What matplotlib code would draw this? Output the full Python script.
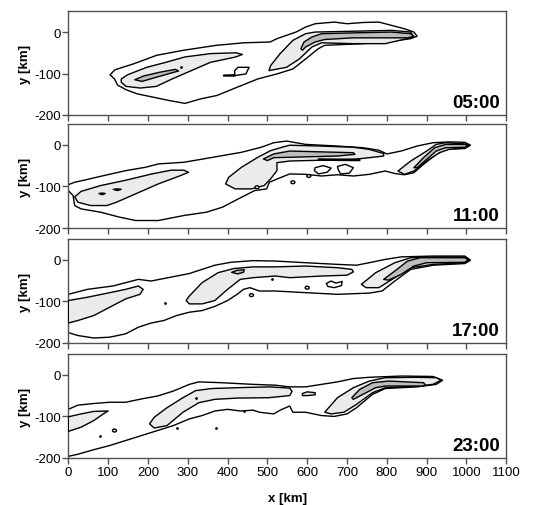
import matplotlib
matplotlib.use("Agg")
import matplotlib.pyplot as plt
from matplotlib.patches import Ellipse

plt.rcParams["font.family"] = ["Liberation Sans", "DejaVu Sans"]
plt.rcParams["axes.unicode_minus"] = False

# ---------------- data (km) ----------------
TIMES = ["05:00", "11:00", "17:00", "23:00"]
X_TICKS = [0, 100, 200, 300, 400, 500, 600, 700, 800, 900, 1000, 1100]
Y_TICKS = [0, -100, -200]

# Panel 05:00
P1_OUTER = [(105,-103),(117,-91),(163,-77),(222,-56),(289,-44),(372,-32),(440,-26),(507,-24),
            (524,-16),(572,0),(596,12),(620,20),(668,24),(700,20),(740,23),(780,24),(812,16),
            (844,8),(868,0),(876,-10),(860,-16),(796,-24),(740,-28),(644,-32),(628,-40),(596,-65),
            (564,-89),(524,-101),(476,-113),(414,-137),(373,-153),(333,-161),(293,-172),(253,-165),
            (213,-157),(173,-149),(145,-139),(124,-128),(116,-113)]
P1_LIGHT = [
    [(133,-113),(149,-103),(197,-85),(245,-73),(293,-60),(357,-52),(421,-50),(437,-54),(421,-60),
     (357,-73),(309,-93),(261,-113),(221,-131),(181,-135),(145,-131),(133,-121)],
    [(504,-93),(508,-81),(532,-52),(564,-20),(596,-4),(620,0),(716,2),(812,4),(860,0),(868,-12),
     (796,-28),(716,-28),(636,-26),(612,-36),(580,-65),(548,-85)],
]
P1_DARK = [
    [(167,-115),(189,-106),(229,-97),(269,-90),(277,-94),(261,-98),(221,-109),(185,-119)],
    [(584,-40),(592,-24),(612,-12),(636,-4),(716,-2),(812,0),(860,-4),(868,-10),(852,-14),
     (796,-14),(716,-14),(644,-18),(620,-24),(596,-36),(588,-44)],
]
P1_HOLES = [
    [(426,-85),(454,-85),(446,-101),(418,-105),(418,-93)],
    [(390,-104),(418,-103),(418,-106),(390,-106)],
]
P1_DOTS_X = [283]
P1_DOTS_Y = [-84]

# Panel 11:00
P2_OUTER = [(0,-96),(16,-90),(40,-85),(89,-74),(145,-62),(194,-54),(226,-46),(290,-42),(339,-34),
            (387,-26),(435,-18),(484,-6),(516,5),(548,9),(596,1),(676,-3),(740,-7),(780,-13),
            (800,-22),(836,-15),(876,-3),(916,5),(956,7),(996,6),(1010,-1),(996,-9),(948,-11),
            (924,-23),(892,-47),(868,-67),(844,-72),(820,-69),(796,-63),(756,-71),(716,-75),
            (676,-72),(636,-75),(596,-71),(556,-70),(530,-80),(505,-90),(498,-106),(468,-110),
            (427,-130),(387,-150),(347,-162),(290,-170),(226,-182),(169,-182),(129,-174),
            (81,-162),(32,-154),(16,-146),(12,-122),(0,-110)]
P2_LIGHT = [
    [(16,-125),(32,-112),(81,-98),(145,-85),(210,-70),(258,-61),(290,-61),(302,-66),(282,-74),
     (226,-94),(169,-118),(121,-138),(97,-146),(56,-146),(24,-138)],
    [(395,-94),(403,-78),(435,-54),(476,-30),(508,-14),(540,-5),(556,-1),(636,-3),(716,-6),
     (756,-11),(792,-21),(792,-27),(756,-31),(716,-35),(636,-37),(556,-39),(524,-43),
     (524,-62),(508,-82),(492,-98),(460,-106),(419,-106)],
    [(828,-63),(860,-39),(900,-15),(924,1),(948,5),(996,2),(1008,-1),(996,-7),(956,-11),
     (932,-19),(900,-39),(868,-63),(844,-71)],
]
P2_DARK = [
    [(77,-117),(85,-116),(93,-117),(85,-120)],
    [(113,-107),(123,-106),(133,-107),(123,-110)],
    [(490,-34),(516,-22),(556,-15),(636,-17),(716,-19),(720,-23),(676,-27),(596,-29),(516,-31),(500,-38)],
    [(628,-34),(732,-35),(732,-38),(628,-37)],
    [(868,-55),(892,-31),(920,-7),(948,1),(996,1),(1004,-2),(996,-6),(948,-7),(924,-15),
     (900,-35),(876,-55)],
]
P2_HOLES = [
    [(620,-55),(640,-50),(660,-56),(650,-66),(628,-70),(618,-62)],
    [(676,-52),(696,-47),(716,-55),(706,-68),(684,-70),(678,-60)],
]
P2_ELL_X = [604, 564, 474]
P2_ELL_Y = [-75, -90, -102]

# Panel 17:00
P3_OUTER = [(0,-83),(32,-75),(48,-71),(80,-67),(112,-63),(144,-55),(176,-47),(208,-51),(240,-45),
            (272,-39),(304,-33),(336,-23),(368,-13),(408,-6),(464,-2),(520,-3),(596,-7),(676,-11),
            (724,-13),(756,-7),(796,1),(836,7),(916,9),(996,9),(1010,-1),(996,-9),(916,-13),
            (860,-23),(820,-51),(788,-75),(756,-80),(676,-83),(596,-79),(520,-75),(480,-75),
            (456,-67),(440,-71),(424,-83),(400,-98),(368,-112),(336,-122),(304,-126),(272,-134),
            (240,-146),(208,-152),(176,-162),(144,-178),(104,-186),(64,-188),(24,-182),(0,-175)]
P3_LIGHT = [
    [(0,-98),(48,-90),(104,-79),(144,-71),(176,-63),(188,-71),(180,-83),(144,-94),(104,-114),
     (64,-134),(24,-146),(0,-152)],
    [(296,-98),(304,-87),(336,-55),(376,-31),(416,-21),(464,-17),(520,-17),(596,-15),(676,-19),
     (712,-23),(716,-29),(700,-37),(636,-39),(556,-43),(520,-39),(464,-43),(432,-47),(400,-71),
     (368,-98),(336,-106),(304,-106)],
    [(736,-59),(772,-31),(820,-7),(860,5),(916,7),(996,7),(1008,-1),(996,-7),(916,-11),
     (860,-19),(820,-43),(780,-67),(748,-67)],
]
P3_DARK = [
    [(410,-30),(425,-25),(442,-24),(440,-30),(425,-34)],
    [(792,-47),(820,-27),(852,-3),(884,5),(996,5),(1004,0),(996,-6),(900,-7),(868,-15),
     (836,-35),(804,-49)],
]
P3_HOLES = [
    [(648,-57),(660,-51),(672,-56),(688,-52),(686,-62),(668,-67),(652,-64)],
]
P3_ELL_X = [460, 600]
P3_ELL_Y = [-85, -67]
P3_DOTS_X = [242, 512]
P3_DOTS_Y = [-104, -45]

# Panel 23:00
P4_OUTER = [(0,-83),(24,-73),(64,-69),(104,-66),(144,-66),(184,-58),(224,-51),(264,-39),(304,-23),
            (328,-17),(384,-19),(424,-21),(464,-23),(520,-25),(556,-29),(596,-29),(636,-23),
            (676,-17),(716,-9),(756,-6),(836,-3),(916,-4),(940,-13),(924,-23),(876,-29),(796,-33),
            (764,-47),(724,-79),(700,-94),(668,-100),(636,-98),(596,-90),(564,-90),(556,-75),
            (532,-85),(516,-94),(480,-90),(464,-85),(432,-87),(400,-83),(368,-87),(336,-98),
            (304,-106),(264,-122),(224,-134),(184,-146),(144,-158),(104,-170),(64,-180),(24,-191),
            (0,-196)]
P4_LIGHT = [
    [(0,-101),(32,-94),(64,-88),(100,-87),(88,-94),(64,-110),(32,-126),(0,-136)],
    [(204,-118),(216,-102),(248,-79),(288,-55),(320,-38),(360,-33),(424,-31),(504,-29),(556,-32),
     (562,-40),(556,-50),(504,-55),(424,-56),(368,-59),(328,-67),(288,-90),(248,-122),(216,-128)],
    [(588,-45),(600,-41),(620,-43),(620,-48),(600,-50),(588,-50)],
    [(644,-90),(676,-55),(716,-31),(756,-15),(796,-7),(876,-6),(924,-7),(936,-13),(916,-23),
     (876,-27),(796,-31),(764,-43),(724,-71),(692,-90),(660,-94)],
]
P4_DARK = [
    [(712,-55),(732,-35),(764,-19),(804,-15),(892,-19),(896,-23),(892,-27),(796,-27),(772,-31),
     (740,-47),(716,-59)],
]
P4_HOLES = []
P4_ELL_X = [116]
P4_ELL_Y = [-134]
P4_DOTS_X = [80, 272, 372, 320, 442]
P4_DOTS_Y = [-148, -129, -128, -55, -88]

PANELS = [
    dict(outer=P1_OUTER, light=P1_LIGHT, dark=P1_DARK, holes=P1_HOLES, ex=[], ey=[], dx=P1_DOTS_X, dy=P1_DOTS_Y),
    dict(outer=P2_OUTER, light=P2_LIGHT, dark=P2_DARK, holes=P2_HOLES, ex=P2_ELL_X, ey=P2_ELL_Y, dx=[], dy=[]),
    dict(outer=P3_OUTER, light=P3_LIGHT, dark=P3_DARK, holes=P3_HOLES, ex=P3_ELL_X, ey=P3_ELL_Y, dx=P3_DOTS_X, dy=P3_DOTS_Y),
    dict(outer=P4_OUTER, light=P4_LIGHT, dark=P4_DARK, holes=P4_HOLES, ex=P4_ELL_X, ey=P4_ELL_Y, dx=P4_DOTS_X, dy=P4_DOTS_Y),
]

LIGHT_C = "#ebebeb"
DARK_C = "#bdbdbd"
EDGE = "black"
SPINE = "#505050"

fig = plt.figure(figsize=(5.46, 5.06), dpi=100)
W, H = 546.0, 506.0
left, right = 68.3 / W, 506.3 / W
tops = [12.3, 125, 240, 355]
bots = [116, 229, 344, 459]


def poly(ax, pts, fc, lw=1.0, z=2):
    xs = [p[0] for p in pts]
    ys = [p[1] for p in pts]
    ax.fill(xs, ys, facecolor=fc, edgecolor=EDGE, linewidth=lw, zorder=z, joinstyle="round")


for i, (p, t) in enumerate(zip(PANELS, TIMES)):
    ax = fig.add_axes([left, 1 - bots[i] / H, right - left, (bots[i] - tops[i]) / H])
    poly(ax, p["outer"], "white", z=2)
    for pts in p["light"]:
        poly(ax, pts, LIGHT_C, z=3)
    for pts in p["dark"]:
        poly(ax, pts, DARK_C, z=4)
    for pts in p["holes"]:
        poly(ax, pts, "white", z=5)
    for ex, ey in zip(p["ex"], p["ey"]):
        ax.add_patch(Ellipse((ex, ey), 10, 7, facecolor="white", edgecolor=EDGE, lw=1.0, zorder=5))
    if p["dx"]:
        ax.scatter(p["dx"], p["dy"], s=4, color="black", zorder=6, linewidths=0)

    ax.set_xlim(0, 1100)
    ax.set_ylim(-200, 50)
    ax.set_xticks(X_TICKS)
    ax.set_yticks(Y_TICKS)
    ax.set_yticklabels([str(v) for v in Y_TICKS])
    ax.tick_params(direction="out", length=4, width=1, colors=SPINE, labelcolor="black",
                   labelsize=9.5, pad=1.5)
    if i < 3:
        ax.set_xticklabels([])
    else:
        ax.set_xticklabels([str(v) for v in X_TICKS])
        ax.set_xlabel("x [km]", fontsize=9.5, fontweight="bold", labelpad=10)
    for s in ax.spines.values():
        s.set_color(SPINE)
        s.set_linewidth(1.0)
    ax.set_ylabel("y [km]", fontsize=9.5, fontweight="bold")
    ax.yaxis.set_label_coords(-0.085, 0.5)
    ax.text(0.985, 0.075, t, transform=ax.transAxes, ha="right", va="baseline",
            fontsize=13.5, fontweight="bold", zorder=10)

fig.savefig("out.png", dpi=100)
